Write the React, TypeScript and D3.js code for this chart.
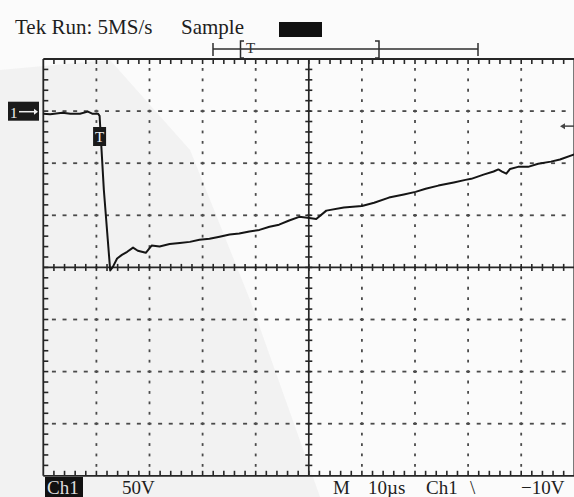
import React from "react";
import * as d3 from "d3";

// ---- data ----
const timeUs = [0, 1.3, 3.6, 5.1, 6.9, 8.4, 9.2, 10.3, 10.6, 11.4, 12.6, 13.1, 13.9, 14.8, 15.8, 16.9, 17.8, 19.3, 20.4, 21.9, 23.8, 25.7, 27.6, 29.4, 31.3, 33.2, 35.1, 36.9, 38.8, 40.7, 42.6, 44.4, 46.3, 48.2, 50.1, 51.4, 53.3, 56.6, 60.0, 62.3, 65.1, 67.9, 70.1, 72.0, 74.4, 77.3, 79.5, 80.6, 82.9, 84.8, 85.7, 86.4, 87.2, 87.9, 89.4, 91.3, 93.2, 95.6, 97.3, 100];
const ch1Volts = [0, -0.5, 1, 0, 0, 2, 0, 0, -2, -73, -150.5, -147, -139, -135.5, -132.5, -128.5, -131.5, -133.5, -126.5, -127.5, -125, -124, -123, -121, -120, -118, -116, -115, -113, -111.5, -108.5, -106.5, -102.5, -99, -100, -101, -93, -90, -88.5, -85.5, -80.5, -77.5, -75, -72, -69, -66, -63.5, -62.5, -58.5, -55.5, -53.5, -55.5, -57.5, -53, -51, -51, -48, -46, -44, -39];

const voltsPerDiv = 50;
const usPerDiv = 10;
const groundOffsetDiv = 2.95;
const triggerLevelV = -10;
const triggerTimeUs = 10.6;
const headerLabels = ["Tek Run: 5MS/s", "Sample"];
const footerLabels = ["50V", "M", "10µs", "Ch1", "\\", "−10V"];

// ---- layout ----
const W = 574, H = 497;
const left = 43.3, top = 59, divX = 53.1, divY = 52.1;
const nX = 10, nY = 8;
const right = left + nX * divX, bottom = top + nY * divY;

const x = d3.scaleLinear().domain([0, nX * usPerDiv]).range([left, right]);
const y = d3
  .scaleLinear()
  .domain([(-nY / 2 - groundOffsetDiv) * voltsPerDiv, (nY / 2 - groundOffsetDiv) * voltsPerDiv])
  .range([bottom, top]);

const serif = "'Liberation Serif', 'Times New Roman', 'DejaVu Serif', serif";
const tStyle = { fontFamily: serif } as React.CSSProperties;

export default function App() {
  const pts: [number, number][] = timeUs.map((t, i) => [t, ch1Volts[i]]);
  const line = d3.line<[number, number]>().x((d) => x(d[0])).y((d) => y(d[1]));

  const ink = "#262626";
  const gridC = "#4a4a4a";
  const els: React.ReactNode[] = [];

  // dotted grid
  for (let k = 1; k < nX; k++) {
    if (k === nX / 2) continue;
    const gx = left + k * divX;
    for (let j = 1; j < nY * 5; j++) {
      const gy = top + (j * divY) / 5;
      els.push(<line key={`vg${k}-${j}`} x1={gx} x2={gx} y1={gy - 1.4} y2={gy + 1.4} stroke={gridC} strokeWidth={1.8} />);
    }
  }
  for (let k = 1; k < nY; k++) {
    if (k === nY / 2) continue;
    const gy = top + k * divY;
    for (let j = 1; j < nX * 5; j++) {
      const gx = left + (j * divX) / 5;
      els.push(<line key={`hg${k}-${j}`} x1={gx - 2} x2={gx + 2} y1={gy} y2={gy} stroke={gridC} strokeWidth={1.8} />);
    }
  }
  // center axes with minor ticks, frame ticks
  const cx = left + (nX / 2) * divX;
  const cy = top + (nY / 2) * divY;
  for (let j = 1; j < nX * 5; j++) {
    const gx = left + (j * divX) / 5;
    els.push(<line key={`ct${j}`} x1={gx} x2={gx} y1={cy - 3.5} y2={cy + 3.5} stroke={ink} strokeWidth={1.6} />);
    els.push(<line key={`tt${j}`} x1={gx} x2={gx} y1={top} y2={top + 5} stroke={ink} strokeWidth={1.6} />);
    els.push(<line key={`bt${j}`} x1={gx} x2={gx} y1={bottom - 5} y2={bottom} stroke={ink} strokeWidth={1.6} />);
  }
  for (let j = 1; j < nY * 5; j++) {
    const gy = top + (j * divY) / 5;
    els.push(<line key={`cv${j}`} x1={cx - 3.5} x2={cx + 3.5} y1={gy} y2={gy} stroke={ink} strokeWidth={1.6} />);
    els.push(<line key={`lt${j}`} x1={left} x2={left + 5} y1={gy} y2={gy} stroke={ink} strokeWidth={1.6} />);
  }

  const gy0 = y(0);
  const trigY = y(triggerLevelV);
  const trigX = x(triggerTimeUs);

  return (
    <svg width={W} height={H} style={{ position: "absolute", left: 0, top: 0, background: "#fbfbfb" }}>
      <rect x={0} y={0} width={W} height={H} fill="#fbfbfb" />
      <path d="M0,70 L110,60 L190,150 L250,300 L320,497 L0,497 Z" fill="#e6e6e6" opacity={0.45} />
      {els}
      {/* frame */}
      <line x1={left} x2={right} y1={top} y2={top} stroke={ink} strokeWidth={1.8} />
      <line x1={left} x2={right} y1={bottom} y2={bottom} stroke={ink} strokeWidth={1.8} />
      <line x1={left} x2={left} y1={top} y2={bottom} stroke={ink} strokeWidth={1.8} />
      <line x1={right} x2={right} y1={top} y2={bottom} stroke={ink} strokeWidth={1.8} />
      <line x1={cx} x2={cx} y1={top} y2={bottom} stroke={ink} strokeWidth={1.7} />
      <line x1={left} x2={right} y1={cy} y2={cy} stroke={ink} strokeWidth={1.7} />

      {/* trace */}
      <path d={line(pts) || ""} fill="none" stroke="#151515" strokeWidth={2} strokeLinejoin="round" />

      {/* header */}
      <text x={15} y={34} fontSize={21} fill="#1e1e1e" style={tStyle}>{headerLabels[0]}</text>
      <text x={181} y={34} fontSize={21} fill="#1e1e1e" style={tStyle}>{headerLabels[1]}</text>
      <rect x={279} y={22} width={43} height={15} fill="#111" />

      {/* record bracket */}
      <g stroke="#2e2e2e" strokeWidth={1.5} fill="none">
        <line x1={213} x2={478} y1={49} y2={49} />
        <line x1={213} x2={213} y1={43} y2={56} />
        <line x1={478} x2={478} y1={43} y2={56} />
        <path d="M244,41 L240.5,41 L240.5,58 L244,58" />
        <path d="M375,41 L379,41 L379,58 L375,58" />
      </g>
      <text x={246} y={53} fontSize={15} fill="#2e2e2e" style={tStyle}>T</text>

      {/* ground marker */}
      <rect x={8} y={gy0 - 12} width={31} height={19} fill="#1a1a1a" />
      <text x={10} y={gy0 + 4} fontSize={15} fill="#eee" style={tStyle}>1</text>
      <line x1={19} x2={34} y1={gy0 - 2} y2={gy0 - 2} stroke="#eee" strokeWidth={1.5} />
      <path d={`M34,${gy0 - 5} L38,${gy0 - 2} L34,${gy0 + 1} Z`} fill="#eee" />

      {/* trigger position marker */}
      <rect x={trigX - 6.5} y={127} width={13} height={19} fill="#1a1a1a" />
      <text x={trigX} y={142} fontSize={15} fill="#eee" textAnchor="middle" style={tStyle}>T</text>

      {/* trigger level marker */}
      <line x1={564} x2={574} y1={trigY + 2} y2={trigY + 2} stroke="#444" strokeWidth={1.5} />
      <path d={`M560,${trigY + 2} L565,${trigY - 1} L565,${trigY + 5} Z`} fill="#444" />

      {/* footer */}
      <rect x={45} y={477} width={38} height={22} fill="#111" />
      <text x={47} y={494} fontSize={19} fill="#ddd" style={tStyle}>Ch1</text>
      <text x={122} y={494} fontSize={19} fill="#1e1e1e" style={tStyle}>{footerLabels[0]}</text>
      <text x={333} y={494} fontSize={19} fill="#1e1e1e" style={tStyle}>{footerLabels[1]}</text>
      <text x={368} y={494} fontSize={19} fill="#1e1e1e" style={tStyle}>{footerLabels[2]}</text>
      <text x={426} y={494} fontSize={19} fill="#1e1e1e" style={tStyle}>{footerLabels[3]}</text>
      <text x={470} y={494} fontSize={19} fill="#1e1e1e" style={tStyle}>{footerLabels[4]}</text>
      <text x={521} y={494} fontSize={19} fill="#1e1e1e" style={tStyle}>{footerLabels[5]}</text>
    </svg>
  );
}
